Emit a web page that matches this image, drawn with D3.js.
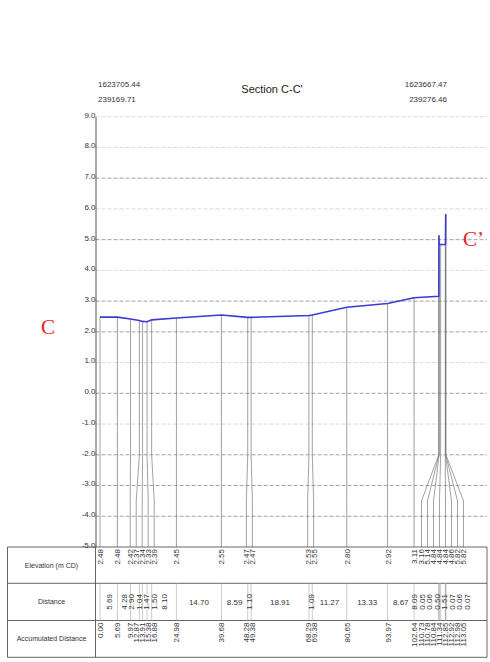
<!DOCTYPE html>
<html>
<head>
<meta charset="utf-8">
<script src="https://cdn.jsdelivr.net/npm/d3@7"></script>
<style>
body{margin:0;background:#fff;}
svg{font-family:"Liberation Sans",Arial,sans-serif;}
</style>
</head>
<body>
<div class="chart"></div>
<script>
//stations along the section (accumulated distance, m)
var accDist = [0.00, 5.69, 9.97, 12.87, 13.91, 15.38, 16.88, 24.98, 39.68, 48.28, 49.38,
               68.29, 69.38, 80.65, 93.97, 102.64, 110.73, 110.78, 110.84, 111.34, 112.85,
               112.92, 112.98, 113.05];
//ground elevation (m CD)
var elevation = [2.48, 2.48, 2.42, 2.37, 2.34, 2.33, 2.39, 2.45, 2.55, 2.47, 2.47,
                 2.53, 2.55, 2.80, 2.92, 3.11, 3.16, 5.14, 4.84, 4.84, 4.84,
                 4.86, 5.82, 5.82];
//distance between stations
var segDist = [5.69, 4.28, 2.90, 1.04, 1.47, 1.50, 8.10, 14.70, 8.59, 1.10,
               18.91, 1.09, 11.27, 13.33, 8.67, 8.09, 0.05, 0.06, 0.50, 1.51,
               0.07, 0.06, 0.07];
var yTicks = [-5, -4, -3, -2, -1, 0, 1, 2, 3, 4, 5, 6, 7, 8, 9];
var darkGrid = [7, 5, 3, 2, 0, -2, -3, -4];
var startCoords = ["1623705.44", "239169.71"];
var endCoords = ["1623667.47", "239276.46"];
var rowLabels = ["Elevation (m CD)", "Distance", "Accumulated Distance"];

function wrapper(){

var svg = d3.select("div.chart")
            .append("svg")
            .attr("width", 490)
            .attr("height", 662);

//scales
var x = d3.scaleLinear().domain([0, 113.05]).range([100, 445.9]);
var y = d3.scaleLinear().domain([-5, 9]).range([547, 116.7]);

var plotLeft = 95.5, plotRight = 487;
var rowTops = [547, 583.3, 620.5, 657.3];
var tableLeft = 7.5, colDiv = 95.5;

//spread labels that would overlap
function spread(xs, gap){
  var items = xs.map(function(v, i){ return {i: i, x: v}; })
                .sort(function(a, b){ return a.x - b.x; });
  var clusters = items.map(function(d){ return {members: [d], center: d.x}; });
  var changed = true;
  while(changed){
    changed = false;
    for(var k = 0; k < clusters.length - 1; k++){
      var a = clusters[k], b = clusters[k+1];
      var aRight = a.center + (a.members.length - 1) * gap / 2;
      var bLeft = b.center - (b.members.length - 1) * gap / 2;
      if(bLeft - aRight < gap){
        var m = a.members.concat(b.members);
        clusters.splice(k, 2, {members: m, center: d3.mean(m, function(d){ return d.x; })});
        changed = true;
        break;
      }
    }
  }
  var out = [];
  clusters.forEach(function(c){
    var n = c.members.length;
    c.members.forEach(function(d, j){ out[d.i] = c.center + (j - (n - 1) / 2) * gap; });
  });
  return out;
}

//gridlines
svg.selectAll(".grid")
   .data(yTicks.filter(function(d){ return d > -5; }))
   .enter()
   .append("line")
     .attr("x1", plotLeft)
     .attr("x2", plotRight)
     .attr("y1", function(d){ return y(d); })
     .attr("y2", function(d){ return y(d); })
     .attr("stroke", function(d){ return darkGrid.indexOf(d) >= 0 ? "#8a8a8a" : "#cfcfcf"; })
     .attr("stroke-width", 0.8)
     .attr("stroke-dasharray", "4,2");

//y axis
var yAxis = d3.axisLeft(y)
              .tickValues(yTicks)
              .tickSize(0)
              .tickPadding(0)
              .tickFormat(function(d){ return d.toFixed(1); });
var gy = svg.append("g")
            .attr("transform", "translate(" + plotLeft + ",0)")
            .call(yAxis);
gy.select(".domain").attr("stroke", "#555").attr("stroke-width", 1);
gy.selectAll("text")
  .attr("dy", "0.05em")
  .attr("font-size", 8)
  .attr("font-family", "Liberation Sans, Arial, sans-serif")
  .attr("fill", "#333");

//label positions for the table
var stationX = accDist.map(function(d){ return x(d); });
var labelX = spread(stationX, 6.0);
var fanTop = y(-2.0), fanBottom = y(-3.5);

//station lines, fanned toward their labels
svg.selectAll(".station")
   .data(accDist)
   .enter()
   .append("path")
     .attr("d", function(d, i){
       var sx = stationX[i], lx = labelX[i];
       return "M" + sx + "," + y(elevation[i]) + "L" + sx + "," + fanTop +
              "L" + lx + "," + fanBottom + "L" + lx + "," + rowTops[0];
     })
     .attr("fill", "none")
     .attr("stroke", "#7a7a7a")
     .attr("stroke-width", 0.7);

//profile
var line = d3.line()
             .x(function(d, i){ return x(accDist[i]); })
             .y(function(d){ return y(d); });
svg.append("path")
   .datum(elevation)
   .attr("d", line)
   .attr("fill", "none")
   .attr("stroke", "#3d3bd2")
   .attr("stroke-width", 1.6);

//header
svg.append("text")
   .attr("x", 272).attr("y", 93)
   .attr("text-anchor", "middle")
   .attr("font-size", 11)
   .attr("fill", "#222")
   .text("Section C-C'");

svg.selectAll(".startc")
   .data(startCoords)
   .enter()
   .append("text")
     .attr("x", 98)
     .attr("y", function(d, i){ return 87 + i * 15; })
     .attr("font-size", 8)
     .attr("fill", "#333")
     .text(function(d){ return d; });

svg.selectAll(".endc")
   .data(endCoords)
   .enter()
   .append("text")
     .attr("x", 447)
     .attr("y", function(d, i){ return 87 + i * 15; })
     .attr("text-anchor", "end")
     .attr("font-size", 8)
     .attr("fill", "#333")
     .text(function(d){ return d; });

//section ends
svg.append("text")
   .attr("x", 48).attr("y", 334)
   .attr("text-anchor", "middle")
   .attr("font-family", "Liberation Serif, serif")
   .attr("font-size", 21)
   .attr("fill", "#e8231f")
   .text("C");
svg.append("text")
   .attr("x", 463).attr("y", 246)
   .attr("font-family", "Liberation Serif, serif")
   .attr("font-size", 21)
   .attr("fill", "#e8231f")
   .text("C\u2019");

//table frame
var tbl = svg.append("g").attr("stroke", "#555").attr("stroke-width", 0.9);
rowTops.forEach(function(ty){
  tbl.append("line").attr("x1", tableLeft).attr("x2", plotRight)
     .attr("y1", ty).attr("y2", ty);
});
[tableLeft, colDiv, plotRight].forEach(function(tx){
  tbl.append("line").attr("x1", tx).attr("x2", tx)
     .attr("y1", rowTops[0]).attr("y2", rowTops[3]);
});

svg.selectAll(".rowlab")
   .data(rowLabels)
   .enter()
   .append("text")
     .attr("x", (tableLeft + colDiv) / 2)
     .attr("y", function(d, i){ return (rowTops[i] + rowTops[i+1]) / 2 + 2.5; })
     .attr("text-anchor", "middle")
     .attr("font-size", 7)
     .attr("fill", "#333")
     .text(function(d){ return d; });

//distance row separators
svg.selectAll(".sep")
   .data(accDist)
   .enter()
   .append("line")
     .attr("x1", function(d){ return x(d); })
     .attr("x2", function(d){ return x(d); })
     .attr("y1", rowTops[1])
     .attr("y2", rowTops[2])
     .attr("stroke", "#aaa")
     .attr("stroke-width", 0.6);

//elevation labels
svg.selectAll(".elab")
   .data(elevation)
   .enter()
   .append("text")
     .attr("transform", function(d, i){
       return "translate(" + (labelX[i] + 3) + "," + (rowTops[0] + 2) + ") rotate(-90)";
     })
     .attr("text-anchor", "end")
     .attr("font-size", 8)
     .attr("fill", "#333")
     .text(function(d){ return d.toFixed(2); });

//accumulated distance labels
svg.selectAll(".alab")
   .data(accDist)
   .enter()
   .append("text")
     .attr("transform", function(d, i){
       return "translate(" + (labelX[i] + 3) + "," + (rowTops[2] + 2) + ") rotate(-90)";
     })
     .attr("text-anchor", "end")
     .attr("font-size", 8)
     .attr("fill", "#333")
     .text(function(d){ return d.toFixed(2); });

//distance labels
var segMid = segDist.map(function(d, i){ return (x(accDist[i]) + x(accDist[i+1])) / 2; });
var segW = segDist.map(function(d, i){ return x(accDist[i+1]) - x(accDist[i]); });
var narrow = segW.map(function(w){ return w < 25.5; });
var narrowIdx = [];
segMid.forEach(function(m, i){ if(narrow[i]) narrowIdx.push(i); });
var narrowPos = spread(narrowIdx.map(function(i){ return segMid[i]; }), 7.5);
var segPos = segMid.slice();
narrowIdx.forEach(function(i, k){ segPos[i] = narrowPos[k]; });
var midRow = (rowTops[1] + rowTops[2]) / 2;

svg.selectAll(".dlab")
   .data(segDist)
   .enter()
   .append("text")
     .attr("transform", function(d, i){
       return narrow[i]
         ? "translate(" + (segPos[i] + 3) + "," + midRow + ") rotate(-90)"
         : "translate(" + segPos[i] + "," + (midRow + 3) + ")";
     })
     .attr("text-anchor", "middle")
     .attr("font-size", 8)
     .attr("fill", "#333")
     .text(function(d){ return d.toFixed(2); });

}
window.onload = wrapper();
</script>
</body>
</html>
